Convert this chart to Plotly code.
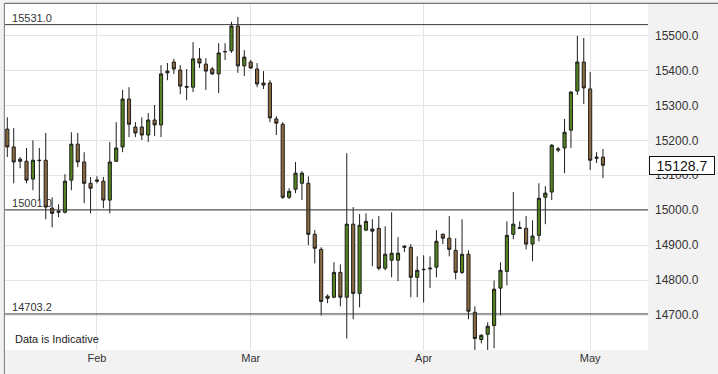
import plotly.graph_objects as go

# ---- data ----
opens = [15232, 15181, 15146, 15140, 15089, 15143, 15143, 15006, 14994, 14994,
         15086, 15189, 15138, 15077, 15083, 15083, 15029, 15140, 15181, 15318,
         15238, 15238, 15215, 15258, 15244, 15398, 15424, 15401, 15354, 15352,
         15433, 15418, 15404, 15390, 15453, 15456, 15527, 15413, 15424, 15404,
         15364, 15364, 15261, 15246, 15037, 15060, 15077, 15077, 14931, 14888,
         14754, 14751, 14822, 14751, 14960, 14762, 14943, 14946, 14948, 14834,
         14857, 14857, 14897, 14894, 14808, 14831, 14832, 14837, 14931, 14920,
         14885, 14822, 14874, 14708, 14630, 14645, 14670, 14777, 14825, 14931,
         14948, 14948, 14903, 14928, 15037, 15052, 15172, 15178, 15229, 15341,
         15424, 15347, 15152, 15152]
highs = [15266, 15235, 15152, 15178, 15200, 15178, 15221, 15037, 15017, 15103,
         15223, 15221, 15166, 15095, 15097, 15095, 15195, 15252, 15344, 15352,
         15252, 15266, 15278, 15301, 15415, 15421, 15433, 15415, 15404, 15481,
         15464, 15435, 15410, 15478, 15478, 15539, 15553, 15458, 15430, 15421,
         15398, 15372, 15269, 15252, 15063, 15138, 15112, 15097, 14943, 14894,
         14759, 14851, 14845, 15163, 15009, 14989, 14991, 14974, 14983, 14954,
         14994, 14923, 14900, 14903, 14868, 14871, 14868, 14943, 14934, 14983,
         14920, 14974, 14885, 14725, 14645, 14679, 14799, 14851, 14968, 15052,
         14968, 14983, 14971, 15077, 15069, 15189, 15181, 15261, 15341, 15499,
         15493, 15395, 15166, 15175]
lows = [15152, 15077, 15120, 15077, 15057, 15029, 14974, 14951, 14980, 14991,
        15057, 15123, 15020, 14991, 15077, 15006, 14991, 15138, 15166, 15209,
        15209, 15201, 15195, 15212, 15209, 15372, 15390, 15332, 15315, 15338,
        15407, 15344, 15387, 15335, 15430, 15450, 15393, 15384, 15404, 15352,
        15347, 15252, 15215, 15032, 15032, 15049, 15029, 14900, 14848, 14699,
        14734, 14748, 14725, 14633, 14688, 14722, 14940, 14840, 14828, 14828,
        14808, 14797, 14880, 14751, 14751, 14736, 14777, 14808, 14903, 14868,
        14802, 14817, 14688, 14599, 14619, 14599, 14605, 14699, 14785, 14917,
        14946, 14888, 14854, 14911, 14960, 15029, 15166, 15106, 15178, 15330,
        15304, 15115, 15135, 15092]
closes = [15181, 15138, 15140, 15086, 15143, 15142, 15009, 14991, 14997, 15083,
          15189, 15138, 15077, 15063, 15086, 15029, 15138, 15178, 15318, 15246,
          15221, 15215, 15258, 15244, 15390, 15393, 15404, 15355, 15352, 15433,
          15421, 15398, 15390, 15450, 15454, 15527, 15413, 15438, 15407, 15361,
          15358, 15264, 15249, 15037, 15054, 15106, 15106, 14931, 14891, 14739,
          14748, 14822, 14751, 14960, 14762, 14957, 14968, 14940, 14834, 14874,
          14877, 14877, 14894, 14808, 14828, 14830, 14834, 14911, 14920, 14888,
          14822, 14874, 14711, 14633, 14642, 14668, 14774, 14828, 14928, 14960,
          14950, 14903, 14926, 15034, 15049, 15186, 15175, 15223, 15338, 15424,
          15350, 15143, 15149, 15128.7]
session = list(range(len(opens)))

month_ticks = [14, 38, 65, 91]
month_labels = ["Feb", "Mar", "Apr", "May"]

price_ticks = [14700, 14800, 14900, 15000, 15100, 15200, 15300, 15400, 15500]
ref_levels = [15531.0, 15001.0, 14703.2]
ref_labels = ["15531.0", "15001.0", "14703.2"]
last_price = closes[-1]

UP_FILL = "#53821f"
DOWN_FILL = "#8c6a40"
EDGE = "#1e1e1e"
FONT = "Liberation Sans, Arial"
Y_RANGE = [14600, 15590]
X_RANGE = [-0.36, 100.03]

fig = go.Figure()
# level labels on the base axes (drawn beneath the candles)
fig.add_trace(go.Scatter(
    x=[0.75] * len(ref_levels), y=ref_levels, text=ref_labels, mode="text",
    textposition="top right", textfont=dict(family=FONT, size=11, color="#333"),
    hoverinfo="skip", showlegend=False, xaxis="x", yaxis="y",
))
# candles on an overlaying axis so they sit on top of the labels
fig.add_trace(go.Candlestick(
    x=session, open=opens, high=highs, low=lows, close=closes,
    increasing=dict(line=dict(color=EDGE, width=1), fillcolor=UP_FILL),
    decreasing=dict(line=dict(color=EDGE, width=1), fillcolor=DOWN_FILL),
    whiskerwidth=0, showlegend=False, xaxis="x", yaxis="y2",
))

shapes = []
for lvl in ref_levels:
    shapes.append(dict(type="line", xref="paper", x0=0, x1=1, yref="y", y0=lvl, y1=lvl,
                       line=dict(color="#3a3a3a", width=1)))
# outer frame (top and left)
shapes.append(dict(type="line", xref="paper", yref="paper", x0=-0.001, x1=1.12, y0=1.002, y1=1.002,
                   line=dict(color="#555", width=1)))
shapes.append(dict(type="line", xref="paper", yref="paper", x0=-0.001, x1=-0.001, y0=-0.08, y1=1.002,
                   line=dict(color="#777", width=1)))

annotations = [
    dict(xref="paper", x=0.013, yref="paper", y=0.0, text="Data is Indicative",
         showarrow=False, xanchor="left", yanchor="bottom", yshift=3,
         font=dict(family=FONT, size=11, color="#222")),
    dict(xref="paper", x=1.0, xanchor="left", xshift=1, yref="y", y=last_price,
         text=f"{last_price:.1f}", showarrow=False,
         bgcolor="white", bordercolor="#111", borderwidth=1, borderpad=1,
         width=62, height=15, align="center",
         font=dict(family=FONT, size=14, color="#111")),
]

fig.update_layout(
    width=718, height=374,
    margin=dict(l=5, r=70, t=4, b=24),
    paper_bgcolor="#f2f2f2",
    plot_bgcolor="white",
    shapes=shapes,
    annotations=annotations,
    xaxis=dict(range=X_RANGE, tickvals=month_ticks, ticktext=month_labels,
               showgrid=True, gridcolor="#e4e4e4", gridwidth=1, zeroline=False,
               ticks="", showline=False, rangeslider=dict(visible=False),
               tickfont=dict(family=FONT, size=11, color="#333")),
    yaxis=dict(range=Y_RANGE, side="right", tickvals=price_ticks,
               tickformat=".1f", showgrid=True, gridcolor="#e4e4e4", gridwidth=1,
               zeroline=False, ticks="", showline=False, ticklabelstandoff=6,
               tickfont=dict(family=FONT, size=12, color="#333")),
    yaxis2=dict(range=Y_RANGE, overlaying="y", side="right", showgrid=False,
                showticklabels=False, zeroline=False, ticks="", showline=False),
)

fig.write_html("out.html")
